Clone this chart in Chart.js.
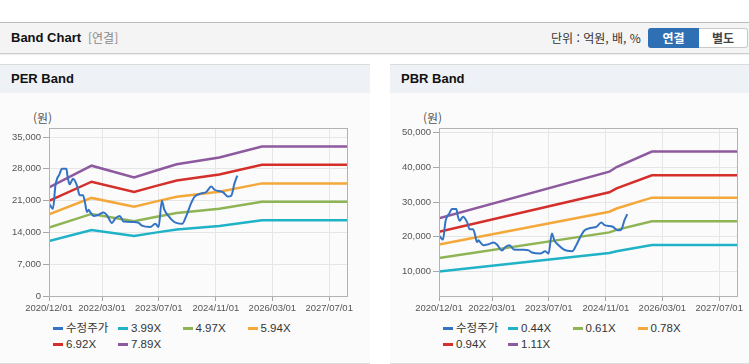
<!DOCTYPE html>
<html lang="ko"><head><meta charset="utf-8">
<script src="https://cdn.jsdelivr.net/npm/chart.js@4.4.1/dist/chart.umd.min.js"></script>
<style>
html,body{margin:0;padding:0}
body{width:749px;height:364px;overflow:hidden;background:#fff;position:relative;font-family:"Liberation Sans","Noto Sans CJK KR",sans-serif;color:#333}
.abs{position:absolute}
#hdr{left:0;top:22px;width:749px;height:30px;background:#f4f4f4;border-top:1px solid #bcbcbc;border-bottom:1px solid #cdcdcd;box-shadow:0 1px 1px rgba(0,0,0,0.06)}
#hdrTitle{left:11px;top:0;line-height:30px;font-size:13px;font-weight:bold;color:#111}
#hdrSub{left:88px;top:0;line-height:30px;font-size:12px;color:#8a8a8a;font-family:"Noto Sans CJK KR",sans-serif}
#unit{left:551px;top:0;line-height:30px;font-size:12px;color:#333;font-family:"Noto Sans CJK KR",sans-serif}
#btn1{left:648px;top:5px;width:51px;height:20px;background:#2f6fb3;border-radius:3px 0 0 3px;color:#fff;font-weight:bold;font-size:12px;text-align:center;line-height:20px;font-family:"Noto Sans CJK KR",sans-serif}
#btn2{left:699px;top:5px;width:48px;height:18px;background:#fff;border:1px solid #c8c8c8;border-left:none;border-radius:0 3px 3px 0;color:#444;font-weight:bold;font-size:12px;text-align:center;line-height:18px;font-family:"Noto Sans CJK KR",sans-serif}
.panel{top:64px;height:298px;background:#fbfbfb;border-top:1px solid #dcdcdc;border-bottom:1px solid #dcdcdc}
.phead{left:0;top:0;right:0;height:28px;background:#eef1f5;font-weight:bold;font-size:13px;line-height:28px;padding-left:11px;color:#111}
.unitLbl{font-size:12px;color:#555;font-family:"Noto Sans CJK KR",sans-serif;line-height:14px}
.lg{font-size:11.5px;color:#333;line-height:14px;white-space:nowrap}
.lg .mk{position:absolute;top:5.5px;width:10px;height:3px}
.lg .tx{position:absolute;left:13px;top:0}
canvas{position:absolute}
</style>
</head><body>
<div id="hdr" class="abs">
  <div id="hdrTitle" class="abs">Band Chart</div>
  <div id="hdrSub" class="abs">[연결]</div>
  <div id="unit" class="abs">단위 : 억원, 배, %</div>
  <div id="btn1" class="abs">연결</div>
  <div id="btn2" class="abs">별도</div>
</div>
<div class="abs panel" style="left:0;width:370px"><div class="abs phead">PER Band</div></div>
<div class="abs panel" style="left:390px;width:359px"><div class="abs phead">PBR Band</div></div>
<div class="abs unitLbl" style="left:33px;top:111px">(원)</div>
<div class="abs unitLbl" style="left:423px;top:111px">(원)</div>
<canvas id="perChart" width="370" height="228" style="left:0;top:93px;width:370px;height:228px"></canvas>
<canvas id="pbrChart" width="359" height="228" style="left:390px;top:93px;width:359px;height:228px"></canvas>
<div id="perLegend" class="abs" style="left:0;top:0"></div>
<div id="pbrLegend" class="abs" style="left:0;top:0"></div>
<script>
// ---------- data ----------
const xTickDates = ['2020-12-01','2022-03-01','2023-07-01','2024-11-01','2026-03-01','2027-07-01'];
const xMinDate = '2020-12-01';
const xMaxDate = '2027-12-01';

const priceDates = ['2020-12-01','2021-01-04','2021-01-25','2021-02-08','2021-02-25','2021-03-22','2021-04-29','2021-05-10','2021-05-27','2021-06-25','2021-07-29','2021-08-21','2021-09-18','2021-10-03','2021-10-23','2021-11-06','2021-11-21','2021-12-19','2022-01-31','2022-03-15','2022-04-12','2022-05-25','2022-06-23','2022-07-30','2022-09-02','2022-11-27','2023-01-09','2023-02-06','2023-04-19','2023-06-01','2023-06-29','2023-07-27','2023-08-17','2023-09-23','2023-11-05','2023-11-28','2024-01-18','2024-02-21','2024-04-04','2024-05-03','2024-06-29','2024-08-11','2024-09-23','2024-10-21','2024-12-31','2025-02-12','2025-03-13','2025-04-10','2025-05-04'];
const priceValues = [20400,19200,24300,25800,26600,28000,28000,26200,24600,25800,24300,22200,22200,21000,18500,19000,18400,17600,17900,18400,17800,16100,17100,17600,16400,16300,16100,15500,15200,15900,15200,21000,19000,17600,16400,16100,15900,17600,20500,21900,22600,22900,24100,23400,22900,21900,22100,24800,26500];

const perBandDates = ['2020-12-01','2021-12-01','2022-12-01','2023-06-01','2023-12-01','2024-12-01','2025-12-01','2027-12-01'];
const perBand399 = [12086,14512,13199,13957,14667,15425,16658,16658];
const perBand497 = [15054,18076,16441,17385,18270,19214,20750,20750];
const perBand594 = [17992,21604,19650,20778,21835,22964,24800,24800];
const perBand692 = [20961,25168,22891,24206,25438,26753,28891,28891];
const perBand789 = [23899,28696,26100,27599,29004,30503,32941,32941];
const perLabels = ['수정주가','3.99X','4.97X','5.94X','6.92X','7.89X'];
const perYTicks = [0,7000,14000,21000,28000,35000];

const pbrBandDates = ['2020-12-01','2024-12-01','2025-02-01','2025-12-01','2027-12-01'];
const pbrBand044 = [10032,15356,15884,17644,17644];
const pbrBand061 = [13908,21289,22021,24461,24461];
const pbrBand078 = [17784,27222,28158,31278,31278];
const pbrBand094 = [21432,32806,33934,37694,37694];
const pbrBand111 = [25308,38739,40071,44511,44511];
const pbrLabels = ['수정주가','0.44X','0.61X','0.78X','0.94X','1.11X'];
const pbrYTicks = [10000,20000,30000,40000,50000];

const seriesColors = ['#3473c4','#20b2c6','#8fb454','#f4a83a','#d42f2b','#8e5a9f'];

// ---------- helpers ----------
const ts = d => Date.parse(d);
const pts = (dates, vals) => dates.map((d, i) => ({x: ts(d), y: vals[i]}));
const fmtDate = v => { const d = new Date(v); const p = n => String(n).padStart(2,'0'); return d.getUTCFullYear() + '/' + p(d.getUTCMonth()+1) + '/' + p(d.getUTCDate()); };

const frame = {
  id: 'frame',
  afterDatasetsDraw(chart) {
    const a = chart.chartArea, c = chart.ctx;
    c.save(); c.strokeStyle = '#b3b3b3'; c.lineWidth = 1;
    c.strokeRect(Math.round(a.left) + 0.5, Math.round(a.top) + 0.5, Math.round(a.right - a.left), Math.round(a.bottom - a.top));
    c.restore();
  }
};

function makeChart(id, bands, bandDates, labels, yMin, yMax, yTicks) {
  const datasets = [{label: labels[0], data: pts(priceDates, priceValues), borderColor: seriesColors[0], borderWidth: 2, cubicInterpolationMode: 'monotone'}];
  bands.forEach((b, i) => datasets.push({label: labels[i+1], data: pts(bandDates, b), borderColor: seriesColors[i+1], borderWidth: 2.5, tension: 0}));
  datasets.forEach(d => { d.pointRadius = 0; d.fill = false; d.backgroundColor = d.borderColor; });
  return new Chart(document.getElementById(id), {
    type: 'line',
    data: {datasets},
    options: {
      responsive: false, animation: false, devicePixelRatio: 1,
      layout: {padding: {top: 35, left: 0, right: id === 'perChart' ? 23 : 12, bottom: 0}},
      plugins: {legend: {display: false}, tooltip: {enabled: false}},
      scales: {
        x: {
          type: 'linear', min: ts(xMinDate), max: ts(xMaxDate),
          afterBuildTicks: s => { s.ticks = xTickDates.map(d => ({value: ts(d)})); },
          afterFit: s => { s.height = 25; },
          grid: {color: '#e6e6e6', tickColor: '#a8a8a8', tickLength: 5},
          border: {color: '#a8a8a8'},
          ticks: {autoSkip: false, maxRotation: 0, padding: 2, color: '#555', font: {family: 'Liberation Sans', size: 9.5}, callback: v => fmtDate(v)}
        },
        y: {
          min: yMin, max: yMax,
          afterBuildTicks: s => { s.ticks = yTicks.map(v => ({value: v})); },
          afterFit: s => { s.width = 49; },
          grid: {color: '#e6e6e6', tickColor: '#a8a8a8', tickLength: 6},
          border: {color: '#a8a8a8'},
          ticks: {padding: 2, color: '#555', font: {family: 'Liberation Sans', size: 9.5}, callback: v => v.toLocaleString('en-US')}
        }
      }
    },
    plugins: [frame]
  });
}

function makeLegend(id, labels, left0) {
  const el = document.getElementById(id);
  const cols = [0, 65, 129.5, 194.5];
  labels.forEach((t, i) => {
    const row = i < 4 ? 0 : 1, col = i < 4 ? i : i - 4;
    const it = document.createElement('div');
    it.className = 'abs lg';
    it.style.left = (left0 + cols[col]) + 'px';
    it.style.top = (row === 0 ? 321 : 337) + 'px';
    it.innerHTML = '<span class="mk" style="background:' + seriesColors[i] + '"></span><span class="tx">' + t + '</span>';
    el.appendChild(it);
  });
}

makeChart('perChart', [perBand399, perBand497, perBand594, perBand692, perBand789], perBandDates, perLabels, 0, 37000, perYTicks);
makeChart('pbrChart', [pbrBand044, pbrBand061, pbrBand078, pbrBand094, pbrBand111], pbrBandDates, pbrLabels, 3000, 51300, pbrYTicks);
makeLegend('perLegend', perLabels, 53);
makeLegend('pbrLegend', pbrLabels, 443);
</script>
</body></html>
